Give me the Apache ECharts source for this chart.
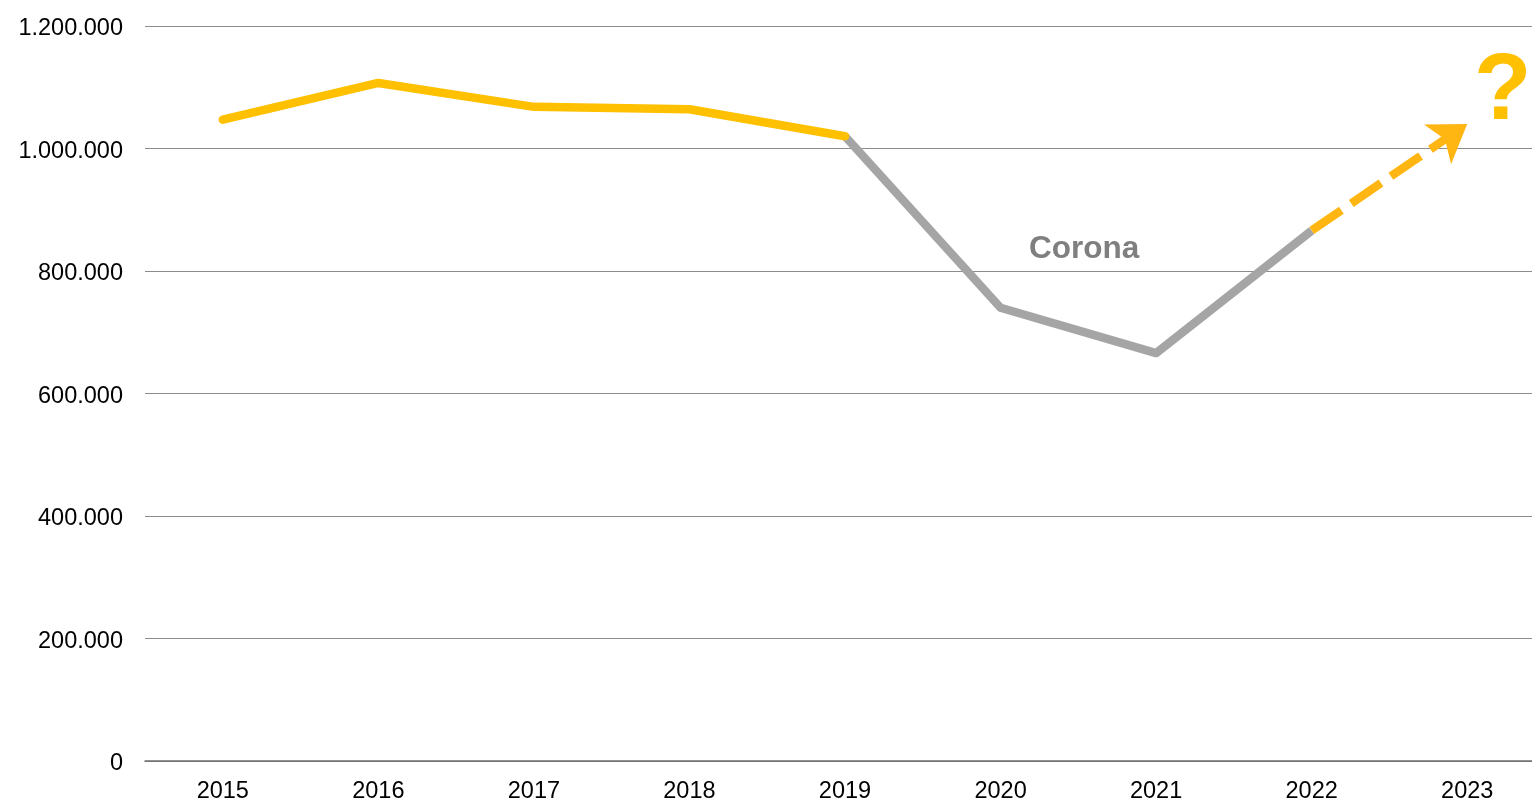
<!DOCTYPE html>
<html>
<head>
<meta charset="utf-8">
<script src="https://cdn.jsdelivr.net/npm/echarts@6/dist/echarts.min.js"></script>
<style>
  html, body { margin: 0; padding: 0; background: #fff; }
  #main { width: 1532px; height: 801px; }
</style>
</head>
<body>
<div id="main"></div>
<script>
// Jahre
const years = ['2015', '2016', '2017', '2018', '2019', '2020', '2021', '2022', '2023'];
// vor Corona (gelb)
const before = [1047000, 1107000, 1068000, 1064000, 1020000, null, null, null, null];
// Corona-Zeitraum (grau)
const corona = [null, null, null, null, 1020000, 740000, 666000, 866000, null];
// Prognose 2022 -> 2023 (gestrichelt mit Pfeil)
const forecastFrom = 866000;
const forecastTo = 1040000;

const fmt = v => String(v).replace(/\B(?=(\d{3})+(?!\d))/g, '.');

const options = {
  animation: false,
  textStyle: { fontFamily: 'Liberation Sans, Arial, sans-serif' },
  grid: { left: 145, width: 1400, top: 26, bottom: 40, outerBoundsMode: 'none', containLabel: false },
  xAxis: {
    type: 'category',
    data: years,
    boundaryGap: true,
    axisLine: { lineStyle: { color: '#6e6e6e', width: 1.5 } },
    axisTick: { show: false },
    axisLabel: { color: '#000', fontSize: 23.5, margin: 19 }
  },
  yAxis: {
    type: 'value',
    min: 0,
    max: 1200000,
    interval: 200000,
    axisLine: { show: false },
    axisTick: { show: false },
    splitLine: { lineStyle: { color: '#8c8c8c', width: 1.2 } },
    axisLabel: { color: '#000', fontSize: 23.5, margin: 22, verticalAlign: 'top', lineHeight: 6, formatter: fmt }
  },
  series: [
    {
      name: 'vor Corona',
      type: 'line',
      data: before,
      symbol: 'none',
      lineStyle: { color: '#FFC000', width: 8.5, cap: 'round', join: 'round' },
      z: 3
    },
    {
      name: 'Corona',
      type: 'line',
      data: corona,
      symbol: 'none',
      lineStyle: { color: '#A5A5A5', width: 8.5, join: 'round' },
      z: 2,
      markLine: {
        silent: true,
        symbol: ['none', 'arrow'],
        symbolSize: 36,
        label: { show: false },
        lineStyle: { color: '#FFB612', width: 8.5, type: [36, 12], cap: 'butt' },
        data: [[
          { coord: ['2022', forecastFrom] },
          { coord: ['2023', forecastTo] }
        ]]
      }
    }
  ],
  graphic: [
    {
      type: 'text',
      left: 1029,
      top: 233,
      style: { text: 'Corona', fill: '#7f7f7f', font: 'bold 31.5px Liberation Sans, Arial, sans-serif' }
    },
    {
      type: 'text',
      left: 1474,
      top: 46,
      style: { text: '?', fill: '#FFC000', font: 'bold 94px Liberation Sans, Arial, sans-serif' }
    }
  ]
};

var myChart = echarts.init(document.getElementById('main'));
myChart.setOption(options);
</script>
</body>
</html>
